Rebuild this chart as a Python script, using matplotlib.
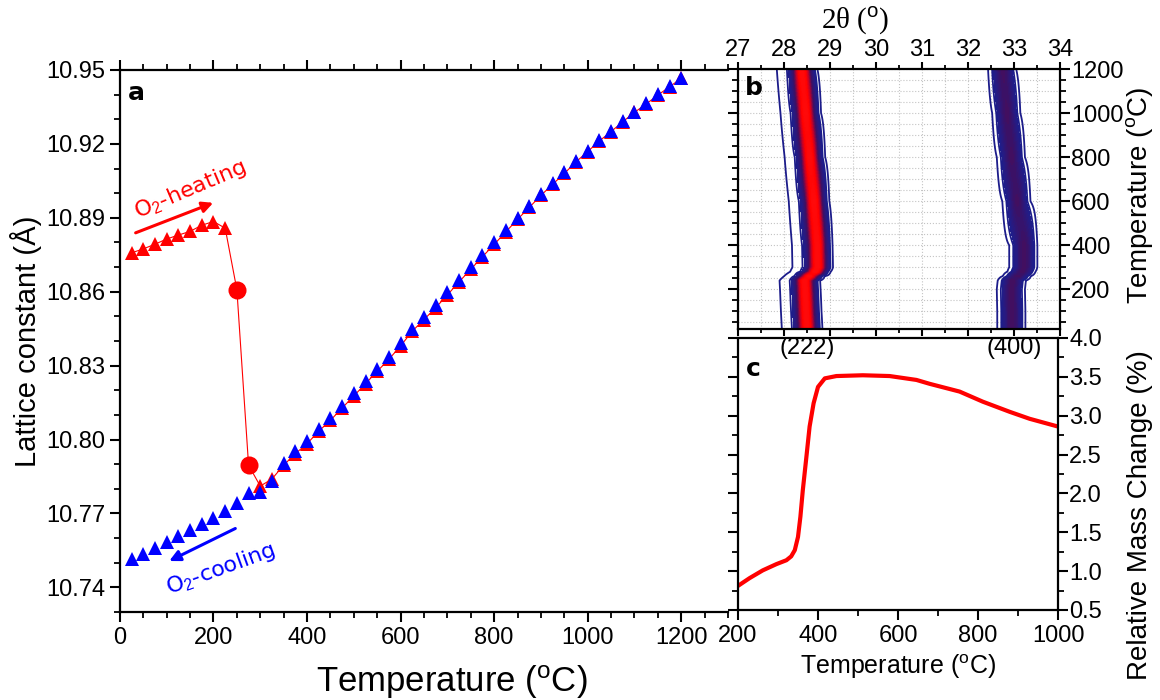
import numpy as np
import matplotlib
matplotlib.use('agg')
from matplotlib import pyplot as plt
from matplotlib.colors import LinearSegmentedColormap
from matplotlib.ticker import MultipleLocator

plt.rcParams['font.family'] = ['Liberation Sans', 'DejaVu Sans']
plt.rcParams['mathtext.fontset'] = 'custom'
plt.rcParams['mathtext.rm'] = 'Liberation Sans'
plt.rcParams['mathtext.it'] = 'Liberation Sans:italic'

# ---- panel a: lattice constant vs temperature ----
heat_T = [25, 50, 75, 100, 125, 150, 175, 200, 225, 250, 275,
          300, 325, 350, 375, 400, 425, 450, 475, 500, 525, 550, 575, 600,
          625, 650, 675, 700, 725, 750, 775, 800, 825, 850, 875, 900,
          925, 950, 975, 1000, 1025, 1050, 1075, 1100, 1125, 1150, 1175, 1200]
heat_a = [10.8758, 10.8774, 10.8793, 10.8814, 10.8830, 10.8845, 10.8870, 10.8885, 10.8858,
          10.8608, 10.7896,
          10.7811, 10.7840, 10.7896, 10.7943, 10.7983, 10.8034, 10.8078, 10.8128,
          10.8177, 10.8227, 10.8277, 10.8326, 10.8380, 10.8440, 10.8487, 10.8535,
          10.8587, 10.8640, 10.8691, 10.8742, 10.8792, 10.8843, 10.8894, 10.8942,
          10.8991, 10.9036, 10.9080, 10.9127, 10.9169, 10.9212, 10.9250, 10.9290,
          10.9328, 10.9362, 10.9398, 10.9432, 10.9466]
# heating points drawn as circles (transition)
circle_idx = [9, 10]

cool_T = [25, 50, 75, 100, 125, 150, 175, 200, 225, 250, 275, 300, 325, 350,
          375, 400, 425, 450, 475, 500, 525, 550, 575, 600, 625, 650, 675, 700,
          725, 750, 775, 800, 825, 850, 875, 900, 925, 950, 975, 1000, 1025,
          1050, 1075, 1100, 1125, 1150, 1175, 1200]
cool_a = [10.7514, 10.7534, 10.7561, 10.7585, 10.7608, 10.7632, 10.7656, 10.7683,
          10.7710, 10.7744, 10.7784, 10.7787, 10.7831, 10.7906, 10.7953, 10.7993,
          10.8044, 10.8088, 10.8138, 10.8187, 10.8237, 10.8287, 10.8336, 10.8390,
          10.8450, 10.8497, 10.8545, 10.8597, 10.8649, 10.8700, 10.8750, 10.8800,
          10.8851, 10.8901, 10.8949, 10.8997, 10.9041, 10.9085, 10.9131, 10.9173,
          10.9216, 10.9253, 10.9293, 10.9331, 10.9365, 10.9401, 10.9435, 10.9468]

# ---- panel b: in-situ XRD peak positions (2theta) vs temperature ----
xrd_T = [20, 100, 200, 240, 260, 280, 300, 400, 600, 800, 1000, 1200]
pos_222 = [28.50, 28.48, 28.46, 28.45, 28.55, 28.68, 28.73, 28.72, 28.65, 28.56, 28.47, 28.39]
pos_400 = [32.96, 32.96, 32.95, 32.97, 33.08, 33.18, 33.22, 33.22, 33.07, 32.95, 32.85, 32.76]
peak_labels = ['(222)', '(400)']
peak_label_x = [28.5, 33.0]

# ---- panel c: TGA ----
tga_T = [200, 229, 262, 296, 321, 333, 342, 350, 356, 362, 371, 379, 389, 400,
         417, 446, 512, 579, 646, 679, 754, 812, 879, 929, 1000]
tga_m = [0.81, 0.91, 1.01, 1.09, 1.14, 1.19, 1.27, 1.44, 1.70, 2.04, 2.47, 2.86,
         3.16, 3.37, 3.48, 3.51, 3.52, 3.51, 3.46, 3.41, 3.31, 3.18, 3.05, 2.96, 2.86]

RED = '#ff0000'
BLUE = '#0000ff'
NAVY = '#1c1c8a'

fig = plt.figure(figsize=(11.6, 7.0), dpi=100)
ax_a = fig.add_axes([0.1034, 0.1257, 0.5242, 0.7743])
ax_c = fig.add_axes([0.6362, 0.1286, 0.2759, 0.3886])
ax_b = fig.add_axes([0.6362, 0.5300, 0.2776, 0.3714])
ax_b.set_zorder(3)

def style_axes(ax):
    for s in ax.spines.values():
        s.set_linewidth(1.6)
    ax.tick_params(which='major', direction='out', length=7, width=1.5, labelsize=17)
    ax.tick_params(which='minor', direction='out', length=4, width=1.3)

# panel a
style_axes(ax_a)
ax_a.spines['right'].set_visible(False)
ax_a.plot(heat_T, heat_a, '-', color=RED, lw=0.8, zorder=2)
tri_T = [t for i, t in enumerate(heat_T) if i not in circle_idx]
tri_a = [a for i, a in enumerate(heat_a) if i not in circle_idx]
ax_a.plot(tri_T, tri_a, '^', color=RED, ms=10, mew=0, zorder=3)
ax_a.plot([heat_T[i] for i in circle_idx], [heat_a[i] for i in circle_idx], 'o',
          color=RED, ms=13, mew=0, zorder=3)
ax_a.plot(cool_T, cool_a, '^', color=BLUE, ms=10, mew=0, zorder=4)
ax_a.set_xlim(0, 1300)
ax_a.set_ylim(10.73, 10.95)
ax_a.set_yticks([10.74, 10.77, 10.80, 10.83, 10.86, 10.89, 10.92, 10.95])
ax_a.yaxis.set_minor_locator(MultipleLocator(0.01))
ax_a.set_xticks([0, 200, 400, 600, 800, 1000, 1200])
ax_a.xaxis.set_minor_locator(MultipleLocator(50))
ax_a.tick_params(top=True, which='both')
ax_a.set_xlabel('Temperature ($^{\\rm o}$C)', fontsize=25)
ax_a.xaxis.set_label_coords(0.546, -0.095)
ax_a.set_ylabel('Lattice constant (\u00c5)', fontsize=21, labelpad=3)
ax_a.text(0.013, 0.98, 'a', transform=ax_a.transAxes, fontsize=18,
          fontweight='bold', family='DejaVu Sans', va='top', ha='left')
ax_a.annotate('', xy=(205, 10.8965), xytext=(28, 10.8835),
              arrowprops=dict(arrowstyle='-|>', color=RED, lw=2.2, mutation_scale=16))
ax_a.text(150, 10.9015, 'O$_2$-heating', color=RED, fontsize=16, rotation=23,
          family='DejaVu Sans', ha='center', va='center')
ax_a.annotate('', xy=(100, 10.7502), xytext=(252, 10.7644),
              arrowprops=dict(arrowstyle='-|>', color=BLUE, lw=2.2, mutation_scale=16))
ax_a.text(217, 10.7475, 'O$_2$-cooling', color=BLUE, fontsize=16, rotation=20,
          family='DejaVu Sans', ha='center', va='center')

# panel b: peak intensity map built from the read peak positions
tt = np.linspace(27, 34, 1401)
TT, XX = np.meshgrid(xrd_T, tt, indexing='ij')
c1 = np.array(pos_222)[:, None]
c2 = np.array(pos_400)[:, None]
inten = (np.exp(-(XX - c1) ** 2 / (2 * 0.11 ** 2))
         + 0.03 * np.exp(-(XX - c1 + 0.25) ** 2 / (2 * 0.20 ** 2))
         + 0.30 * np.exp(-(XX - c2) ** 2 / (2 * 0.11 ** 2))
         + 0.012 * np.exp(-(XX - c2 + 0.15) ** 2 / (2 * 0.15 ** 2)))
cmap = LinearSegmentedColormap.from_list('xrd', [(0.0, '#1e1e8c'), (0.25, '#3e0f62'),
                                                (0.55, '#c00028'), (0.8, '#ff0000'),
                                                (1.0, '#ff0a0a')])
style_axes(ax_b)
ax_b.set_axisbelow(True)
ax_b.grid(True, which='both', color='#c4c4c4', ls=':', lw=0.8)
ax_b.contourf(tt, xrd_T, inten, levels=np.linspace(0.06, 1.1, 33), cmap=cmap,
              vmin=0.06, vmax=1.0, extend='max', zorder=1)
ax_b.contour(tt, xrd_T, inten, levels=[0.01, 0.04], colors=NAVY, linewidths=1.3, zorder=2)
ax_b.set_xlim(27, 34)
ax_b.set_ylim(20, 1200)
ax_b.xaxis.set_major_locator(MultipleLocator(1))
ax_b.xaxis.set_minor_locator(MultipleLocator(0.5))
ax_b.yaxis.set_minor_locator(MultipleLocator(50))
ax_b.set_yticks([200, 400, 600, 800, 1000, 1200])
ax_b.tick_params(which='both', top=True, bottom=True, left=True, right=True,
                 labeltop=True, labelbottom=False, labelleft=False, labelright=True)
ax_b.tick_params(axis='x', which='major', length=5, pad=1)
ax_b.tick_params(axis='x', which='minor', length=3)
ax_b.tick_params(axis='y', pad=1)
ax_b.xaxis.set_label_position('top')
ax_b.set_xlabel('2\u03b8 ($^{\\rm o}$)', fontsize=21, family='Liberation Serif')
ax_b.xaxis.set_label_coords(0.363, 1.155)
ax_b.yaxis.set_label_position('right')
ax_b.set_ylabel('Temperature ($^{\\rm o}$C)', fontsize=20)
ax_b.yaxis.set_label_coords(1.20, 0.515)
ax_b.text(0.02, 0.975, 'b', transform=ax_b.transAxes, fontsize=18,
          fontweight='bold', family='DejaVu Sans', va='top', ha='left')
for lab, px in zip(peak_labels, peak_label_x):
    ax_b.annotate(lab, xy=(px, 0), xycoords=('data', 'axes fraction'),
                  xytext=(0, -14), textcoords='offset points', fontsize=17,
                  ha='center', va='center', annotation_clip=False)

# panel c
style_axes(ax_c)
ax_c.plot(tga_T, tga_m, '-', color=RED, lw=3)
ax_c.set_xlim(200, 1000)
ax_c.set_ylim(0.5, 4.0)
ax_c.set_xticks([200, 400, 600, 800, 1000])
ax_c.xaxis.set_minor_locator(MultipleLocator(100))
ax_c.yaxis.set_major_locator(MultipleLocator(0.5))
ax_c.yaxis.set_minor_locator(MultipleLocator(0.25))
ax_c.yaxis.set_major_formatter(plt.FormatStrFormatter('%.1f'))
ax_c.tick_params(which='both', left=True, right=True, labelleft=False, labelright=True)
ax_c.tick_params(axis='y', pad=1)
ax_c.yaxis.set_label_position('right')
ax_c.set_ylabel('Relative Mass Change (%)', fontsize=20)
ax_c.yaxis.set_label_coords(1.215, 0.35)
ax_c.set_xlabel('Temperature ($^{\\rm o}$C)', fontsize=18, labelpad=4)
ax_c.text(0.025, 0.93, 'c', transform=ax_c.transAxes, fontsize=18,
          fontweight='bold', family='DejaVu Sans', va='top', ha='left')

fig.savefig('out.png', dpi=100)
